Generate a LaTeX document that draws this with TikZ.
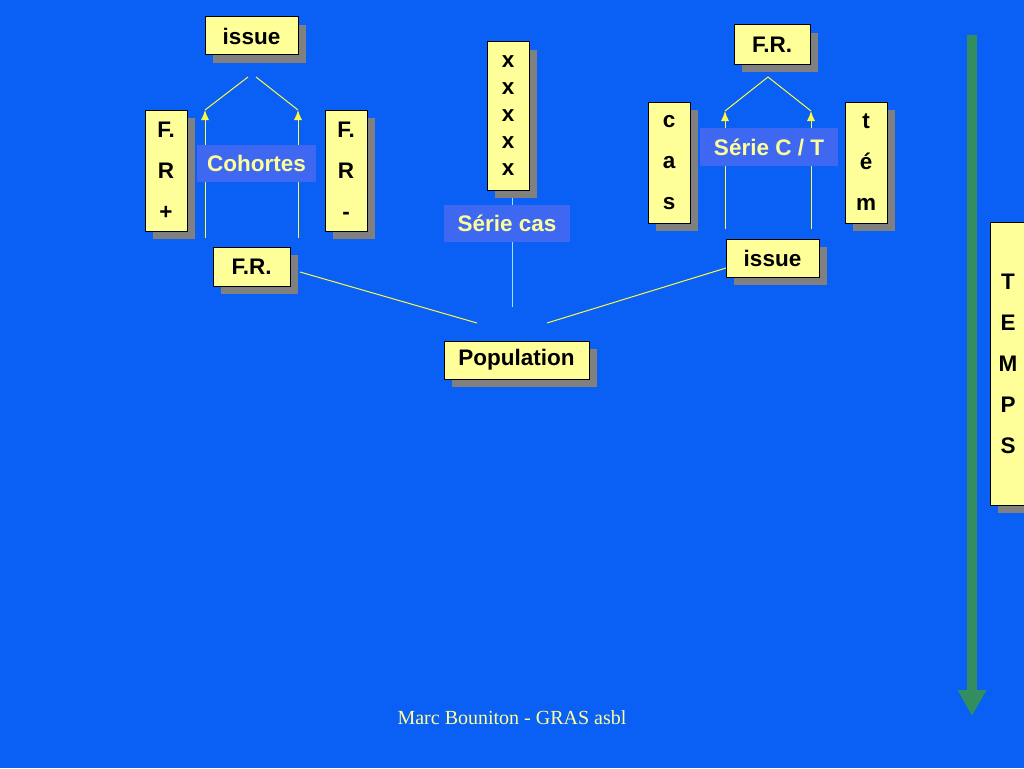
\documentclass[tikz,border=0pt]{standalone}
\usepackage{fontspec}
\setmainfont{Liberation Sans}
\newfontfamily\creditfont{Liberation Serif}
\usepackage{tikz}
\usetikzlibrary{arrows.meta,positioning,shadows}
\definecolor{slideblue}{RGB}{10,95,245}
\definecolor{boxyellow}{RGB}{255,255,153}
\definecolor{tagblue}{RGB}{62,104,242}
\definecolor{linkyellow}{RGB}{250,250,70}
\definecolor{linkcyan}{RGB}{160,225,255}
\definecolor{timegreen}{RGB}{50,142,95}

\begin{document}
\begin{tikzpicture}[x=1pt,y=-1pt,
	box/.style={rectangle,draw=black,fill=boxyellow,line width=1pt,inner sep=0pt,font=\fontsize{22.5}{26}\selectfont\bfseries,drop shadow={shadow xshift=8pt,shadow yshift=-8pt,fill=gray,opacity=1}},
	tallbox/.style={box,align=center,minimum width=42pt,font=\fontsize{22.5}{41}\selectfont\bfseries},
	tag/.style={rectangle,fill=tagblue,inner sep=0pt,text=boxyellow,font=\fontsize{22.5}{26}\selectfont\bfseries},
	link/.style={linkyellow,line width=1pt}]
	\path[use as bounding box,fill=slideblue] (0,0) rectangle (1024,768);
	\clip (0,0) rectangle (1024,768);

	\begin{scope}
	\coordinate (cohLb) at (205,238);
	\coordinate (cohLt) at (205,110);
	\coordinate (cohRb) at (298,238);
	\coordinate (cohRt) at (298,110);
	\coordinate (issLa) at (248,77);
	\coordinate (issLb) at (256,77);
	\coordinate (serLb) at (725,229);
	\coordinate (serLt) at (725,111);
	\coordinate (serRb) at (811,229);
	\coordinate (serRt) at (811,111);
	\coordinate (frRa) at (768,77);
	\coordinate (casTop) at (512,190);
	\coordinate (casBot) at (512,307);
	\coordinate (frLout) at (300,272);
	\coordinate (popL) at (477,323);
	\coordinate (popR) at (547,323);
	\coordinate (issRin) at (726,268);
	\coordinate (tStart) at (972,35);
	\coordinate (tEnd) at (972,716);
	\draw[link,-{Latex[length=10pt,width=8pt]}] (cohLb) -- (cohLt);
	\draw[link,-{Latex[length=10pt,width=8pt]}] (cohRb) -- (cohRt);
	\draw[link] (cohLt) -- (issLa);
	\draw[link] (cohRt) -- (issLb);
	\draw[link,-{Latex[length=10pt,width=8pt]}] (serLb) -- (serLt);
	\draw[link,-{Latex[length=10pt,width=8pt]}] (serRb) -- (serRt);
	\draw[link] (serLt) -- (frRa) -- (serRt);
	\draw[link,linkcyan] (casTop) -- (casBot);
	\draw[link] (frLout) -- (popL);
	\draw[link] (popR) -- (issRin);
	\draw[timegreen,line width=10pt,-{Triangle[length=26pt,width=27pt]}] (tStart) -- (tEnd);
	\end{scope}

	\begin{scope}
		\node[box,minimum width=93pt,minimum height=38pt] (issueL) at (251.5,36) {issue};
		\node[tallbox,minimum height=121pt] (frPlus) at (166,170.5) {F.\\R\\+};
		\node[tallbox,minimum height=121pt] (frMinus) at (346,170.5) {F.\\R\\-};
		\node[box,minimum width=77pt,minimum height=39pt] (frL) at (251.5,266.5) {F.R.};
		\node[tallbox,minimum height=148pt,font=\fontsize{22.5}{27}\selectfont\bfseries] (xcol) at (508,116) {x\\x\\x\\x\\x};
		\node[box,minimum width=145pt,minimum height=38pt] (pop) at (516.5,360) {Population};
		\node[box,minimum width=76pt,minimum height=39pt] (frR) at (772,44.5) {F.R.};
		\node[tallbox,minimum height=121pt] (cas) at (669,162.5) {c\\a\\s};
		\node[tallbox,minimum height=121pt] (tem) at (866,162.5) {t\\é\\m};
		\node[box,minimum width=93pt,minimum height=38pt] (issueR) at (772.5,258) {issue};
		\node[tallbox,minimum width=36pt,minimum height=283pt] (temps) at (1008,363.5) {T\\E\\M\\P\\S};
	\end{scope}

	\begin{scope}[every node/.style={tag}]
		\node[minimum width=119pt,minimum height=37pt] (cohortes) at (256.5,163.5) {Cohortes};
		\node[minimum width=126pt,minimum height=37pt] (seriecas) at (507,223.5) {Série cas};
		\node[minimum width=138pt,minimum height=38pt] (seriect) at (769,147) {Série C / T};
	\end{scope}

	\node[text=boxyellow,font=\creditfont\fontsize{20}{24}\selectfont] (credit) at (512,718) {Marc Bouniton - GRAS asbl};
\end{tikzpicture}
\end{document}
